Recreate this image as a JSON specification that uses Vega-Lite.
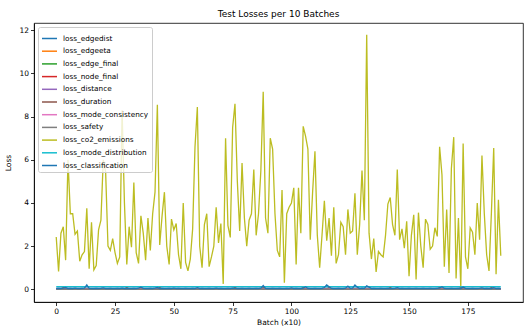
{
"$schema": "https://vega.github.io/schema/vega-lite/v6.json",
"width": 489, "height": 279,
"autosize": {"type": "none"},
"padding": {"left": 34, "top": 23, "right": 3, "bottom": 29},
"background": "white",
"title": {"text": "Test Losses per 10 Batches", "fontSize": 9, "font": "DejaVu Sans", "fontWeight": "normal", "color": "#000", "offset": 4, "anchor": "middle"},
"datasets": {
"names": [
{"k":"a","name":"loss_edgedist"},{"k":"b","name":"loss_edgeeta"},{"k":"c","name":"loss_edge_final"},{"k":"d","name":"loss_node_final"},{"k":"e","name":"loss_distance"},{"k":"f","name":"loss_duration"},{"k":"g","name":"loss_mode_consistency"},{"k":"h","name":"loss_safety"},{"k":"i","name":"loss_co2_emissions"},{"k":"j","name":"loss_mode_distribution"},{"k":"k","name":"loss_classification"}],
"losses": [
{"x":0,"a":0.05,"b":0,"c":0,"d":0,"e":0,"f":0.01,"g":0,"h":0,"i":2.42,"j":0.12,"k":0.03},
{"x":1,"a":0.05,"b":0,"c":0,"d":0,"e":0,"f":0.01,"g":0,"h":0,"i":0.83,"j":0.12,"k":0.04},
{"x":2,"a":0.05,"b":0,"c":0,"d":0,"e":0,"f":0.01,"g":0,"h":0,"i":2.6,"j":0.12,"k":0.03},
{"x":3,"a":0.05,"b":0,"c":0,"d":0,"e":0,"f":0.08,"g":0,"h":0,"i":2.9,"j":0.12,"k":0.05},
{"x":4,"a":0.05,"b":0,"c":0,"d":0,"e":0,"f":0.01,"g":0,"h":0,"i":1.35,"j":0.12,"k":0.08},
{"x":5,"a":0.05,"b":0,"c":0,"d":0,"e":0,"f":0.01,"g":0,"h":0,"i":6.0,"j":0.12,"k":0.03},
{"x":6,"a":0.05,"b":0,"c":0,"d":0,"e":0,"f":0.01,"g":0,"h":0,"i":3.5,"j":0.12,"k":0.04},
{"x":7,"a":0.05,"b":0,"c":0,"d":0,"e":0,"f":0.01,"g":0,"h":0,"i":3.5,"j":0.12,"k":0.03},
{"x":8,"a":0.05,"b":0,"c":0,"d":0,"e":0,"f":0.01,"g":0,"h":0,"i":2.55,"j":0.12,"k":0.05},
{"x":9,"a":0.05,"b":0,"c":0,"d":0,"e":0,"f":0.01,"g":0,"h":0,"i":2.7,"j":0.12,"k":0.03},
{"x":10,"a":0.05,"b":0,"c":0,"d":0,"e":0,"f":0.01,"g":0,"h":0,"i":1.3,"j":0.12,"k":0.03},
{"x":11,"a":0.05,"b":0,"c":0,"d":0,"e":0,"f":0.01,"g":0,"h":0,"i":1.6,"j":0.12,"k":0.04},
{"x":12,"a":0.05,"b":0,"c":0,"d":0,"e":0,"f":0.01,"g":0,"h":0,"i":1.75,"j":0.12,"k":0.05},
{"x":13,"a":0.05,"b":0,"c":0,"d":0,"e":0,"f":0.01,"g":0,"h":0,"i":3.75,"j":0.12,"k":0.2},
{"x":14,"a":0.05,"b":0,"c":0,"d":0,"e":0,"f":0.01,"g":0,"h":0,"i":0.95,"j":0.12,"k":0.04},
{"x":15,"a":0.05,"b":0,"c":0,"d":0,"e":0,"f":0.01,"g":0,"h":0,"i":3.1,"j":0.12,"k":0.03},
{"x":16,"a":0.05,"b":0,"c":0,"d":0,"e":0,"f":0.01,"g":0,"h":0,"i":0.9,"j":0.12,"k":0.03},
{"x":17,"a":0.05,"b":0,"c":0,"d":0,"e":0,"f":0.01,"g":0,"h":0,"i":1.1,"j":0.12,"k":0.04},
{"x":18,"a":0.05,"b":0,"c":0,"d":0,"e":0,"f":0.01,"g":0,"h":0,"i":2.75,"j":0.12,"k":0.03},
{"x":19,"a":0.05,"b":0,"c":0,"d":0,"e":0,"f":0.01,"g":0,"h":0,"i":3.2,"j":0.12,"k":0.04},
{"x":20,"a":0.05,"b":0,"c":0,"d":0,"e":0,"f":0.01,"g":0,"h":0,"i":6.0,"j":0.12,"k":0.06},
{"x":21,"a":0.05,"b":0,"c":0,"d":0,"e":0,"f":0.01,"g":0,"h":0,"i":5.45,"j":0.12,"k":0.03},
{"x":22,"a":0.05,"b":0,"c":0,"d":0,"e":0,"f":0.01,"g":0,"h":0,"i":2.0,"j":0.12,"k":0.03},
{"x":23,"a":0.05,"b":0,"c":0,"d":0,"e":0,"f":0.01,"g":0,"h":0,"i":1.8,"j":0.12,"k":0.04},
{"x":24,"a":0.05,"b":0,"c":0,"d":0,"e":0,"f":0.01,"g":0,"h":0,"i":2.35,"j":0.12,"k":0.03},
{"x":25,"a":0.05,"b":0,"c":0,"d":0,"e":0,"f":0.01,"g":0,"h":0,"i":1.7,"j":0.12,"k":0.03},
{"x":26,"a":0.05,"b":0,"c":0,"d":0,"e":0,"f":0.01,"g":0,"h":0,"i":1.2,"j":0.12,"k":0.04},
{"x":27,"a":0.05,"b":0,"c":0,"d":0,"e":0,"f":0.01,"g":0,"h":0,"i":1.5,"j":0.12,"k":0.03},
{"x":28,"a":0.05,"b":0,"c":0,"d":0,"e":0,"f":0.01,"g":0,"h":0,"i":8.3,"j":0.12,"k":0.05},
{"x":29,"a":0.05,"b":0,"c":0,"d":0,"e":0,"f":0.01,"g":0,"h":0,"i":4.0,"j":0.12,"k":0.03},
{"x":30,"a":0.05,"b":0,"c":0,"d":0,"e":0,"f":0.08,"g":0,"h":0,"i":1.15,"j":0.12,"k":0.04},
{"x":31,"a":0.05,"b":0,"c":0,"d":0,"e":0,"f":0.01,"g":0,"h":0,"i":2.9,"j":0.12,"k":0.03},
{"x":32,"a":0.05,"b":0,"c":0,"d":0,"e":0,"f":0.01,"g":0,"h":0,"i":1.95,"j":0.12,"k":0.03},
{"x":33,"a":0.05,"b":0,"c":0,"d":0,"e":0,"f":0.01,"g":0,"h":0,"i":4.95,"j":0.12,"k":0.04},
{"x":34,"a":0.05,"b":0,"c":0,"d":0,"e":0,"f":0.01,"g":0,"h":0,"i":1.7,"j":0.12,"k":0.03},
{"x":35,"a":0.05,"b":0,"c":0,"d":0,"e":0,"f":0.01,"g":0,"h":0,"i":1.2,"j":0.12,"k":0.05},
{"x":36,"a":0.05,"b":0,"c":0,"d":0,"e":0,"f":0.01,"g":0,"h":0,"i":3.4,"j":0.12,"k":0.1},
{"x":37,"a":0.05,"b":0,"c":0,"d":0,"e":0,"f":0.01,"g":0,"h":0,"i":2.6,"j":0.12,"k":0.04},
{"x":38,"a":0.05,"b":0,"c":0,"d":0,"e":0,"f":0.01,"g":0,"h":0,"i":1.35,"j":0.12,"k":0.03},
{"x":39,"a":0.05,"b":0,"c":0,"d":0,"e":0,"f":0.01,"g":0,"h":0,"i":3.3,"j":0.12,"k":0.03},
{"x":40,"a":0.05,"b":0,"c":0,"d":0,"e":0,"f":0.01,"g":0,"h":0,"i":1.8,"j":0.12,"k":0.04},
{"x":41,"a":0.05,"b":0,"c":0,"d":0,"e":0,"f":0.01,"g":0,"h":0,"i":3.5,"j":0.12,"k":0.03},
{"x":42,"a":0.05,"b":0,"c":0,"d":0,"e":0,"f":0.01,"g":0,"h":0,"i":4.5,"j":0.12,"k":0.05},
{"x":43,"a":0.05,"b":0,"c":0,"d":0,"e":0,"f":0.01,"g":0,"h":0,"i":8.55,"j":0.12,"k":0.08},
{"x":44,"a":0.05,"b":0,"c":0,"d":0,"e":0,"f":0.08,"g":0,"h":0,"i":2.05,"j":0.12,"k":0.03},
{"x":45,"a":0.05,"b":0,"c":0,"d":0,"e":0,"f":0.01,"g":0,"h":0,"i":3.4,"j":0.12,"k":0.04},
{"x":46,"a":0.05,"b":0,"c":0,"d":0,"e":0,"f":0.01,"g":0,"h":0,"i":4.5,"j":0.12,"k":0.03},
{"x":47,"a":0.05,"b":0,"c":0,"d":0,"e":0,"f":0.01,"g":0,"h":0,"i":2.0,"j":0.12,"k":0.03},
{"x":48,"a":0.05,"b":0,"c":0,"d":0,"e":0,"f":0.01,"g":0,"h":0,"i":1.15,"j":0.12,"k":0.04},
{"x":49,"a":0.05,"b":0,"c":0,"d":0,"e":0,"f":0.01,"g":0,"h":0,"i":3.25,"j":0.12,"k":0.03},
{"x":50,"a":0.05,"b":0,"c":0,"d":0,"e":0,"f":0.01,"g":0,"h":0,"i":2.75,"j":0.12,"k":0.05},
{"x":51,"a":0.05,"b":0,"c":0,"d":0,"e":0,"f":0.01,"g":0,"h":0,"i":3.05,"j":0.12,"k":0.03},
{"x":52,"a":0.05,"b":0,"c":0,"d":0,"e":0,"f":0.01,"g":0,"h":0,"i":1.6,"j":0.12,"k":0.04},
{"x":53,"a":0.05,"b":0,"c":0,"d":0,"e":0,"f":0.01,"g":0,"h":0,"i":0.95,"j":0.12,"k":0.03},
{"x":54,"a":0.05,"b":0,"c":0,"d":0,"e":0,"f":0.01,"g":0,"h":0,"i":4.0,"j":0.12,"k":0.03},
{"x":55,"a":0.05,"b":0,"c":0,"d":0,"e":0,"f":0.01,"g":0,"h":0,"i":1.25,"j":0.12,"k":0.04},
{"x":56,"a":0.05,"b":0,"c":0,"d":0,"e":0,"f":0.01,"g":0,"h":0,"i":0.85,"j":0.12,"k":0.03},
{"x":57,"a":0.05,"b":0,"c":0,"d":0,"e":0,"f":0.01,"g":0,"h":0,"i":1.4,"j":0.12,"k":0.03},
{"x":58,"a":0.05,"b":0,"c":0,"d":0,"e":0,"f":0.01,"g":0,"h":0,"i":2.8,"j":0.12,"k":0.04},
{"x":59,"a":0.05,"b":0,"c":0,"d":0,"e":0,"f":0.01,"g":0,"h":0,"i":6.6,"j":0.12,"k":0.03},
{"x":60,"a":0.05,"b":0,"c":0,"d":0,"e":0,"f":0.01,"g":0,"h":0,"i":8.45,"j":0.12,"k":0.07},
{"x":61,"a":0.05,"b":0,"c":0,"d":0,"e":0,"f":0.01,"g":0,"h":0,"i":2.0,"j":0.12,"k":0.03},
{"x":62,"a":0.05,"b":0,"c":0,"d":0,"e":0,"f":0.01,"g":0,"h":0,"i":1.0,"j":0.12,"k":0.04},
{"x":63,"a":0.05,"b":0,"c":0,"d":0,"e":0,"f":0.01,"g":0,"h":0,"i":3.0,"j":0.12,"k":0.03},
{"x":64,"a":0.05,"b":0,"c":0,"d":0,"e":0,"f":0.01,"g":0,"h":0,"i":3.5,"j":0.12,"k":0.03},
{"x":65,"a":0.05,"b":0,"c":0,"d":0,"e":0,"f":0.01,"g":0,"h":0,"i":1.05,"j":0.12,"k":0.04},
{"x":66,"a":0.05,"b":0,"c":0,"d":0,"e":0,"f":0.01,"g":0,"h":0,"i":1.5,"j":0.12,"k":0.03},
{"x":67,"a":0.05,"b":0,"c":0,"d":0,"e":0,"f":0.01,"g":0,"h":0,"i":2.0,"j":0.12,"k":0.03},
{"x":68,"a":0.05,"b":0,"c":0,"d":0,"e":0,"f":0.01,"g":0,"h":0,"i":3.8,"j":0.12,"k":0.05},
{"x":69,"a":0.05,"b":0,"c":0,"d":0,"e":0,"f":0.01,"g":0,"h":0,"i":2.15,"j":0.12,"k":0.03},
{"x":70,"a":0.05,"b":0,"c":0,"d":0,"e":0,"f":0.01,"g":0,"h":0,"i":3.05,"j":0.12,"k":0.04},
{"x":71,"a":0.05,"b":0,"c":0,"d":0,"e":0,"f":0.01,"g":0,"h":0,"i":0.25,"j":0.12,"k":0.03},
{"x":72,"a":0.05,"b":0,"c":0,"d":0,"e":0,"f":0.01,"g":0,"h":0,"i":7.0,"j":0.12,"k":0.03},
{"x":73,"a":0.05,"b":0,"c":0,"d":0,"e":0,"f":0.01,"g":0,"h":0,"i":2.95,"j":0.12,"k":0.04},
{"x":74,"a":0.05,"b":0,"c":0,"d":0,"e":0,"f":0.01,"g":0,"h":0,"i":2.4,"j":0.12,"k":0.03},
{"x":75,"a":0.05,"b":0,"c":0,"d":0,"e":0,"f":0.01,"g":0,"h":0,"i":7.5,"j":0.12,"k":0.05},
{"x":76,"a":0.05,"b":0,"c":0,"d":0,"e":0,"f":0.08,"g":0,"h":0,"i":8.6,"j":0.12,"k":0.04},
{"x":77,"a":0.05,"b":0,"c":0,"d":0,"e":0,"f":0.01,"g":0,"h":0,"i":5.0,"j":0.12,"k":0.03},
{"x":78,"a":0.05,"b":0,"c":0,"d":0,"e":0,"f":0.01,"g":0,"h":0,"i":2.7,"j":0.12,"k":0.03},
{"x":79,"a":0.05,"b":0,"c":0,"d":0,"e":0,"f":0.01,"g":0,"h":0,"i":5.85,"j":0.12,"k":0.04},
{"x":80,"a":0.05,"b":0,"c":0,"d":0,"e":0,"f":0.01,"g":0,"h":0,"i":3.3,"j":0.12,"k":0.03},
{"x":81,"a":0.05,"b":0,"c":0,"d":0,"e":0,"f":0.01,"g":0,"h":0,"i":2.0,"j":0.12,"k":0.03},
{"x":82,"a":0.05,"b":0,"c":0,"d":0,"e":0,"f":0.01,"g":0,"h":0,"i":3.2,"j":0.12,"k":0.04},
{"x":83,"a":0.05,"b":0,"c":0,"d":0,"e":0,"f":0.01,"g":0,"h":0,"i":3.5,"j":0.12,"k":0.03},
{"x":84,"a":0.05,"b":0,"c":0,"d":0,"e":0,"f":0.01,"g":0,"h":0,"i":5.55,"j":0.12,"k":0.03},
{"x":85,"a":0.05,"b":0,"c":0,"d":0,"e":0,"f":0.01,"g":0,"h":0,"i":2.5,"j":0.12,"k":0.04},
{"x":86,"a":0.05,"b":0,"c":0,"d":0,"e":0,"f":0.01,"g":0,"h":0,"i":3.5,"j":0.12,"k":0.03},
{"x":87,"a":0.05,"b":0,"c":0,"d":0,"e":0,"f":0.01,"g":0,"h":0,"i":5.5,"j":0.12,"k":0.05},
{"x":88,"a":0.05,"b":0,"c":0,"d":0,"e":0,"f":0.08,"g":0,"h":0,"i":9.15,"j":0.12,"k":0.17},
{"x":89,"a":0.05,"b":0,"c":0,"d":0,"e":0,"f":0.01,"g":0,"h":0,"i":3.3,"j":0.12,"k":0.04},
{"x":90,"a":0.05,"b":0,"c":0,"d":0,"e":0,"f":0.01,"g":0,"h":0,"i":2.6,"j":0.12,"k":0.03},
{"x":91,"a":0.05,"b":0,"c":0,"d":0,"e":0,"f":0.01,"g":0,"h":0,"i":7.0,"j":0.12,"k":0.03},
{"x":92,"a":0.05,"b":0,"c":0,"d":0,"e":0,"f":0.01,"g":0,"h":0,"i":6.5,"j":0.12,"k":0.04},
{"x":93,"a":0.05,"b":0,"c":0,"d":0,"e":0,"f":0.01,"g":0,"h":0,"i":3.5,"j":0.12,"k":0.03},
{"x":94,"a":0.05,"b":0,"c":0,"d":0,"e":0,"f":0.01,"g":0,"h":0,"i":1.8,"j":0.12,"k":0.03},
{"x":95,"a":0.05,"b":0,"c":0,"d":0,"e":0,"f":0.01,"g":0,"h":0,"i":1.5,"j":0.12,"k":0.04},
{"x":96,"a":0.05,"b":0,"c":0,"d":0,"e":0,"f":0.01,"g":0,"h":0,"i":4.6,"j":0.12,"k":0.03},
{"x":97,"a":0.05,"b":0,"c":0,"d":0,"e":0,"f":0.01,"g":0,"h":0,"i":0.3,"j":0.12,"k":0.03},
{"x":98,"a":0.05,"b":0,"c":0,"d":0,"e":0,"f":0.01,"g":0,"h":0,"i":3.5,"j":0.12,"k":0.04},
{"x":99,"a":0.05,"b":0,"c":0,"d":0,"e":0,"f":0.01,"g":0,"h":0,"i":3.8,"j":0.12,"k":0.03},
{"x":100,"a":0.05,"b":0,"c":0,"d":0,"e":0,"f":0.01,"g":0,"h":0,"i":4.0,"j":0.12,"k":0.06},
{"x":101,"a":0.05,"b":0,"c":0,"d":0,"e":0,"f":0.01,"g":0,"h":0,"i":4.7,"j":0.12,"k":0.03},
{"x":102,"a":0.05,"b":0,"c":0,"d":0,"e":0,"f":0.01,"g":0,"h":0,"i":1.15,"j":0.12,"k":0.04},
{"x":103,"a":0.05,"b":0,"c":0,"d":0,"e":0,"f":0.01,"g":0,"h":0,"i":4.7,"j":0.12,"k":0.03},
{"x":104,"a":0.05,"b":0,"c":0,"d":0,"e":0,"f":0.01,"g":0,"h":0,"i":2.6,"j":0.12,"k":0.03},
{"x":105,"a":0.05,"b":0,"c":0,"d":0,"e":0,"f":0.08,"g":0,"h":0,"i":7.55,"j":0.12,"k":0.05},
{"x":106,"a":0.05,"b":0,"c":0,"d":0,"e":0,"f":0.01,"g":0,"h":0,"i":7.1,"j":0.12,"k":0.12},
{"x":107,"a":0.05,"b":0,"c":0,"d":0,"e":0,"f":0.01,"g":0,"h":0,"i":6.5,"j":0.12,"k":0.04},
{"x":108,"a":0.05,"b":0,"c":0,"d":0,"e":0,"f":0.01,"g":0,"h":0,"i":2.3,"j":0.12,"k":0.03},
{"x":109,"a":0.05,"b":0,"c":0,"d":0,"e":0,"f":0.01,"g":0,"h":0,"i":4.5,"j":0.12,"k":0.03},
{"x":110,"a":0.05,"b":0,"c":0,"d":0,"e":0,"f":0.01,"g":0,"h":0,"i":6.4,"j":0.12,"k":0.04},
{"x":111,"a":0.05,"b":0,"c":0,"d":0,"e":0,"f":0.01,"g":0,"h":0,"i":2.5,"j":0.12,"k":0.03},
{"x":112,"a":0.05,"b":0,"c":0,"d":0,"e":0,"f":0.01,"g":0,"h":0,"i":1.0,"j":0.12,"k":0.03},
{"x":113,"a":0.05,"b":0,"c":0,"d":0,"e":0,"f":0.01,"g":0,"h":0,"i":2.5,"j":0.12,"k":0.04},
{"x":114,"a":0.05,"b":0,"c":0,"d":0,"e":0,"f":0.01,"g":0,"h":0,"i":4.1,"j":0.12,"k":0.08},
{"x":115,"a":0.05,"b":0,"c":0,"d":0,"e":0,"f":0.01,"g":0,"h":0,"i":2.25,"j":0.12,"k":0.2},
{"x":116,"a":0.05,"b":0,"c":0,"d":0,"e":0,"f":0.08,"g":0,"h":0,"i":3.3,"j":0.12,"k":0.12},
{"x":117,"a":0.05,"b":0,"c":0,"d":0,"e":0,"f":0.01,"g":0,"h":0,"i":1.55,"j":0.12,"k":0.04},
{"x":118,"a":0.05,"b":0,"c":0,"d":0,"e":0,"f":0.01,"g":0,"h":0,"i":3.8,"j":0.12,"k":0.03},
{"x":119,"a":0.05,"b":0,"c":0,"d":0,"e":0,"f":0.01,"g":0,"h":0,"i":1.2,"j":0.12,"k":0.03},
{"x":120,"a":0.05,"b":0,"c":0,"d":0,"e":0,"f":0.01,"g":0,"h":0,"i":1.6,"j":0.12,"k":0.04},
{"x":121,"a":0.05,"b":0,"c":0,"d":0,"e":0,"f":0.01,"g":0,"h":0,"i":3.1,"j":0.12,"k":0.03},
{"x":122,"a":0.05,"b":0,"c":0,"d":0,"e":0,"f":0.01,"g":0,"h":0,"i":2.9,"j":0.12,"k":0.03},
{"x":123,"a":0.05,"b":0,"c":0,"d":0,"e":0,"f":0.01,"g":0,"h":0,"i":1.6,"j":0.12,"k":0.05},
{"x":124,"a":0.05,"b":0,"c":0,"d":0,"e":0,"f":0.01,"g":0,"h":0,"i":3.7,"j":0.12,"k":0.15},
{"x":125,"a":0.05,"b":0,"c":0,"d":0,"e":0,"f":0.01,"g":0,"h":0,"i":2.6,"j":0.12,"k":0.04},
{"x":126,"a":0.05,"b":0,"c":0,"d":0,"e":0,"f":0.01,"g":0,"h":0,"i":2.7,"j":0.12,"k":0.05},
{"x":127,"a":0.05,"b":0,"c":0,"d":0,"e":0,"f":0.01,"g":0,"h":0,"i":4.45,"j":0.12,"k":0.2},
{"x":128,"a":0.05,"b":0,"c":0,"d":0,"e":0,"f":0.01,"g":0,"h":0,"i":1.6,"j":0.12,"k":0.1},
{"x":129,"a":0.05,"b":0,"c":0,"d":0,"e":0,"f":0.01,"g":0,"h":0,"i":3.0,"j":0.12,"k":0.03},
{"x":130,"a":0.05,"b":0,"c":0,"d":0,"e":0,"f":0.01,"g":0,"h":0,"i":5.5,"j":0.12,"k":0.05},
{"x":131,"a":0.05,"b":0,"c":0,"d":0,"e":0,"f":0.01,"g":0,"h":0,"i":3.2,"j":0.12,"k":0.04},
{"x":132,"a":0.05,"b":0,"c":0,"d":0,"e":0,"f":0.01,"g":0,"h":0,"i":11.8,"j":0.12,"k":0.16},
{"x":133,"a":0.05,"b":0,"c":0,"d":0,"e":0,"f":0.01,"g":0,"h":0,"i":2.6,"j":0.12,"k":0.1},
{"x":134,"a":0.05,"b":0,"c":0,"d":0,"e":0,"f":0.01,"g":0,"h":0,"i":1.4,"j":0.12,"k":0.03},
{"x":135,"a":0.05,"b":0,"c":0,"d":0,"e":0,"f":0.01,"g":0,"h":0,"i":2.35,"j":0.12,"k":0.04},
{"x":136,"a":0.05,"b":0,"c":0,"d":0,"e":0,"f":0.01,"g":0,"h":0,"i":0.8,"j":0.12,"k":0.03},
{"x":137,"a":0.05,"b":0,"c":0,"d":0,"e":0,"f":0.01,"g":0,"h":0,"i":1.75,"j":0.12,"k":0.03},
{"x":138,"a":0.05,"b":0,"c":0,"d":0,"e":0,"f":0.01,"g":0,"h":0,"i":1.6,"j":0.12,"k":0.04},
{"x":139,"a":0.05,"b":0,"c":0,"d":0,"e":0,"f":0.01,"g":0,"h":0,"i":1.5,"j":0.12,"k":0.03},
{"x":140,"a":0.05,"b":0,"c":0,"d":0,"e":0,"f":0.01,"g":0,"h":0,"i":2.5,"j":0.12,"k":0.03},
{"x":141,"a":0.05,"b":0,"c":0,"d":0,"e":0,"f":0.01,"g":0,"h":0,"i":3.95,"j":0.12,"k":0.04},
{"x":142,"a":0.05,"b":0,"c":0,"d":0,"e":0,"f":0.08,"g":0,"h":0,"i":4.25,"j":0.12,"k":0.03},
{"x":143,"a":0.05,"b":0,"c":0,"d":0,"e":0,"f":0.01,"g":0,"h":0,"i":3.0,"j":0.12,"k":0.03},
{"x":144,"a":0.05,"b":0,"c":0,"d":0,"e":0,"f":0.01,"g":0,"h":0,"i":2.5,"j":0.12,"k":0.04},
{"x":145,"a":0.05,"b":0,"c":0,"d":0,"e":0,"f":0.01,"g":0,"h":0,"i":5.55,"j":0.12,"k":0.07},
{"x":146,"a":0.05,"b":0,"c":0,"d":0,"e":0,"f":0.01,"g":0,"h":0,"i":2.3,"j":0.12,"k":0.03},
{"x":147,"a":0.05,"b":0,"c":0,"d":0,"e":0,"f":0.01,"g":0,"h":0,"i":2.8,"j":0.12,"k":0.04},
{"x":148,"a":0.05,"b":0,"c":0,"d":0,"e":0,"f":0.01,"g":0,"h":0,"i":1.9,"j":0.12,"k":0.03},
{"x":149,"a":0.05,"b":0,"c":0,"d":0,"e":0,"f":0.01,"g":0,"h":0,"i":3.15,"j":0.12,"k":0.03},
{"x":150,"a":0.05,"b":0,"c":0,"d":0,"e":0,"f":0.01,"g":0,"h":0,"i":0.6,"j":0.12,"k":0.04},
{"x":151,"a":0.05,"b":0,"c":0,"d":0,"e":0,"f":0.01,"g":0,"h":0,"i":2.5,"j":0.12,"k":0.03},
{"x":152,"a":0.05,"b":0,"c":0,"d":0,"e":0,"f":0.01,"g":0,"h":0,"i":3.45,"j":0.12,"k":0.03},
{"x":153,"a":0.05,"b":0,"c":0,"d":0,"e":0,"f":0.01,"g":0,"h":0,"i":0.45,"j":0.12,"k":0.04},
{"x":154,"a":0.05,"b":0,"c":0,"d":0,"e":0,"f":0.01,"g":0,"h":0,"i":3.55,"j":0.12,"k":0.03},
{"x":155,"a":0.05,"b":0,"c":0,"d":0,"e":0,"f":0.01,"g":0,"h":0,"i":2.0,"j":0.12,"k":0.03},
{"x":156,"a":0.05,"b":0,"c":0,"d":0,"e":0,"f":0.01,"g":0,"h":0,"i":1.0,"j":0.12,"k":0.04},
{"x":157,"a":0.05,"b":0,"c":0,"d":0,"e":0,"f":0.01,"g":0,"h":0,"i":3.25,"j":0.12,"k":0.03},
{"x":158,"a":0.05,"b":0,"c":0,"d":0,"e":0,"f":0.01,"g":0,"h":0,"i":3.0,"j":0.12,"k":0.03},
{"x":159,"a":0.05,"b":0,"c":0,"d":0,"e":0,"f":0.01,"g":0,"h":0,"i":1.85,"j":0.12,"k":0.04},
{"x":160,"a":0.05,"b":0,"c":0,"d":0,"e":0,"f":0.01,"g":0,"h":0,"i":2.0,"j":0.12,"k":0.03},
{"x":161,"a":0.05,"b":0,"c":0,"d":0,"e":0,"f":0.01,"g":0,"h":0,"i":2.85,"j":0.12,"k":0.03},
{"x":162,"a":0.05,"b":0,"c":0,"d":0,"e":0,"f":0.01,"g":0,"h":0,"i":2.45,"j":0.12,"k":0.04},
{"x":163,"a":0.05,"b":0,"c":0,"d":0,"e":0,"f":0.08,"g":0,"h":0,"i":6.6,"j":0.12,"k":0.05},
{"x":164,"a":0.05,"b":0,"c":0,"d":0,"e":0,"f":0.01,"g":0,"h":0,"i":5.3,"j":0.12,"k":0.12},
{"x":165,"a":0.05,"b":0,"c":0,"d":0,"e":0,"f":0.01,"g":0,"h":0,"i":1.05,"j":0.12,"k":0.04},
{"x":166,"a":0.05,"b":0,"c":0,"d":0,"e":0,"f":0.01,"g":0,"h":0,"i":3.7,"j":0.12,"k":0.03},
{"x":167,"a":0.05,"b":0,"c":0,"d":0,"e":0,"f":0.01,"g":0,"h":0,"i":0.75,"j":0.12,"k":0.03},
{"x":168,"a":0.05,"b":0,"c":0,"d":0,"e":0,"f":0.01,"g":0,"h":0,"i":5.6,"j":0.12,"k":0.04},
{"x":169,"a":0.05,"b":0,"c":0,"d":0,"e":0,"f":0.01,"g":0,"h":0,"i":7.05,"j":0.12,"k":0.03},
{"x":170,"a":0.05,"b":0,"c":0,"d":0,"e":0,"f":0.01,"g":0,"h":0,"i":0.5,"j":0.12,"k":0.03},
{"x":171,"a":0.05,"b":0,"c":0,"d":0,"e":0,"f":0.01,"g":0,"h":0,"i":3.3,"j":0.12,"k":0.04},
{"x":172,"a":0.05,"b":0,"c":0,"d":0,"e":0,"f":0.08,"g":0,"h":0,"i":0.1,"j":0.12,"k":0.03},
{"x":173,"a":0.05,"b":0,"c":0,"d":0,"e":0,"f":0.01,"g":0,"h":0,"i":6.75,"j":0.12,"k":0.1},
{"x":174,"a":0.05,"b":0,"c":0,"d":0,"e":0,"f":0.01,"g":0,"h":0,"i":1.5,"j":0.12,"k":0.04},
{"x":175,"a":0.05,"b":0,"c":0,"d":0,"e":0,"f":0.01,"g":0,"h":0,"i":0.95,"j":0.12,"k":0.03},
{"x":176,"a":0.05,"b":0,"c":0,"d":0,"e":0,"f":0.01,"g":0,"h":0,"i":2.85,"j":0.12,"k":0.03},
{"x":177,"a":0.05,"b":0,"c":0,"d":0,"e":0,"f":0.01,"g":0,"h":0,"i":2.65,"j":0.12,"k":0.04},
{"x":178,"a":0.05,"b":0,"c":0,"d":0,"e":0,"f":0.01,"g":0,"h":0,"i":1.6,"j":0.12,"k":0.03},
{"x":179,"a":0.05,"b":0,"c":0,"d":0,"e":0,"f":0.01,"g":0,"h":0,"i":4.0,"j":0.12,"k":0.03},
{"x":180,"a":0.05,"b":0,"c":0,"d":0,"e":0,"f":0.01,"g":0,"h":0,"i":2.3,"j":0.12,"k":0.04},
{"x":181,"a":0.05,"b":0,"c":0,"d":0,"e":0,"f":0.01,"g":0,"h":0,"i":6.2,"j":0.12,"k":0.06},
{"x":182,"a":0.05,"b":0,"c":0,"d":0,"e":0,"f":0.01,"g":0,"h":0,"i":3.5,"j":0.12,"k":0.03},
{"x":183,"a":0.05,"b":0,"c":0,"d":0,"e":0,"f":0.01,"g":0,"h":0,"i":1.6,"j":0.12,"k":0.04},
{"x":184,"a":0.05,"b":0,"c":0,"d":0,"e":0,"f":0.01,"g":0,"h":0,"i":0.85,"j":0.12,"k":0.03},
{"x":185,"a":0.05,"b":0,"c":0,"d":0,"e":0,"f":0.08,"g":0,"h":0,"i":3.5,"j":0.12,"k":0.03},
{"x":186,"a":0.05,"b":0,"c":0,"d":0,"e":0,"f":0.01,"g":0,"h":0,"i":6.55,"j":0.12,"k":0.07},
{"x":187,"a":0.05,"b":0,"c":0,"d":0,"e":0,"f":0.01,"g":0,"h":0,"i":0.7,"j":0.12,"k":0.03},
{"x":188,"a":0.05,"b":0,"c":0,"d":0,"e":0,"f":0.01,"g":0,"h":0,"i":4.15,"j":0.12,"k":0.04},
{"x":189,"a":0.05,"b":0,"c":0,"d":0,"e":0,"f":0.01,"g":0,"h":0,"i":1.55,"j":0.12,"k":0.03}
]},
"data": {"name": "losses"},
"transform": [
{"fold": ["a","b","c","d","e","f","g","h","i","j","k"], "as": ["k","loss"]},
{"lookup": "k", "from": {"data": {"name": "names"}, "key": "k", "fields": ["name"]}}
],
"mark": {"type": "line", "strokeWidth": 1.3, "clip": true},
"encoding": {
"x": {"field": "x", "type": "quantitative", "scale": {"domain": [-9.45, 198.45], "nice": false, "zero": false}, "axis": {"values": [0,25,50,75,100,125,150,175], "title": "Batch (x10)"}},
"y": {"field": "loss", "type": "quantitative", "scale": {"domain": [-0.59, 12.34], "nice": false, "zero": false}, "axis": {"values": [0,2,4,6,8,10,12], "title": "Loss"}},
"color": {"field": "name", "type": "nominal",
"scale": {"domain": ["loss_edgedist","loss_edgeeta","loss_edge_final","loss_node_final","loss_distance","loss_duration","loss_mode_consistency","loss_safety","loss_co2_emissions","loss_mode_distribution","loss_classification"],
"range": ["#1f77b4","#ff7f0e","#2ca02c","#d62728","#9467bd","#8c564b","#e377c2","#7f7f7f","#bcbd22","#17becf","#1f77b4"]},
"legend": {"title": null, "orient": "top-left", "offset": 4, "symbolType": "stroke", "symbolSize": 225, "symbolStrokeWidth": 1.5, "labelFontSize": 7.3, "labelFont": "DejaVu Sans", "labelColor": "#000", "labelOffset": 5, "rowPadding": 0.7, "padding": 3, "fillColor": "rgba(255,255,255,0.8)", "strokeColor": "#cccccc", "cornerRadius": 2}}
},
"config": {
"font": "DejaVu Sans",
"view": {"stroke": "#000", "strokeWidth": 0.8},
"axis": {"grid": false, "domainColor": "#000", "domainWidth": 0.8, "tickColor": "#000", "tickWidth": 0.8, "tickSize": 3.5, "labelColor": "#000", "labelFontSize": 7.5, "labelFont": "DejaVu Sans", "labelPadding": 2, "titleFont": "DejaVu Sans", "titleFontSize": 7.5, "titleFontWeight": "normal", "titleColor": "#000"},
"axisX": {"titlePadding": 3},
"axisY": {"titlePadding": 6}
}
}
